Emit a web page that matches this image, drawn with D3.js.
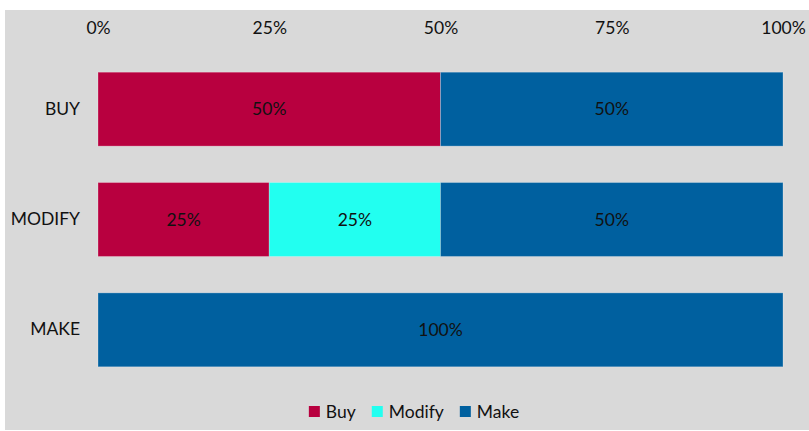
<!DOCTYPE html>
<html>
<head>
<meta charset="utf-8">
<script src="https://cdn.jsdelivr.net/npm/d3@7"></script>
<style>
    body { margin: 0; background: #ffffff; }
    text { font-family: Lato, "Open Sans", sans-serif; fill: #111111; }
</style>
</head>
<body>
<div class="chart"></div>
<script>
let categories = ["BUY", "MODIFY", "MAKE"];
let seriesNames = ["Buy", "Modify", "Make"];
let buyValues = [50, 25, 0];
let modifyValues = [0, 25, 0];
let makeValues = [50, 50, 100];
let tickValues = [0, 25, 50, 75, 100];
let colors = ["#b8003f", "#22fff0", "#00609f"];

const fontSize = "17.5px";

function buildRows() {
    let rows = categories.map((c, i) => ({
        category: c,
        Buy: buyValues[i],
        Modify: modifyValues[i],
        Make: makeValues[i]
    }));
    return rows;
}

function drawChart() {
    const width = 809;
    const height = 431;
    const svg = d3.select('.chart')
        .append('svg')
        .attr('width', width)
        .attr('height', height);

    // chart area background
    svg.append("rect")
        .attr("x", 5)
        .attr("y", 10)
        .attr("width", width - 5)
        .attr("height", 420)
        .attr("fill", "#d9d9d9");

    let rows = buildRows();
    let stacked = d3.stack().keys(seriesNames)(rows);

    const x = d3.scaleLinear().domain([0, 100]).range([98, 783]);
    const y = d3.scaleBand().domain(categories).range([54, 385]).paddingInner(0.33).paddingOuter(0.165);

    const color = d3.scaleOrdinal().domain(seriesNames).range(colors);

    // top axis
    const xAxis = d3.axisTop(x).tickValues(tickValues).tickFormat(d => d + "%").tickSize(0).tickPadding(0);
    const gx = svg.append("g")
        .attr("transform", "translate(0,34)")
        .call(xAxis);
    gx.select(".domain").remove();
    gx.selectAll("text").attr("font-size", fontSize).attr("font-family", "Lato, sans-serif").attr("fill", "#111");

    // left axis
    const yAxis = d3.axisLeft(y).tickSize(0).tickPadding(18);
    const gy = svg.append("g")
        .attr("transform", "translate(98,0)")
        .call(yAxis);
    gy.select(".domain").remove();
    gy.selectAll("text").attr("font-size", fontSize).attr("font-family", "Lato, sans-serif").attr("fill", "#111");

    let layers = svg.selectAll(".layer")
        .data(stacked)
        .enter()
        .append("g")
        .attr("class", "layer")
        .attr("fill", d => color(d.key));

    layers.selectAll("rect")
        .data(d => d.filter(s => s[1] - s[0] > 0))
        .enter()
        .append("rect")
        .attr("x", d => x(d[0]))
        .attr("y", d => y(d.data.category))
        .attr("width", d => x(d[1]) - x(d[0]))
        .attr("height", y.bandwidth())
        .attr("stroke", "rgba(255,255,255,0.25)")
        .attr("stroke-width", 1);

    layers.selectAll("text")
        .data(d => d.filter(s => s[1] - s[0] > 0))
        .enter()
        .append("text")
        .attr("text-anchor", "middle")
        .attr("x", d => (x(d[0]) + x(d[1])) / 2)
        .attr("y", d => y(d.data.category) + y.bandwidth() / 2)
        .attr("dy", "0.36em")
        .attr("font-size", fontSize)
        .text(d => (d[1] - d[0]) + "%");

    // legend
    const legend = svg.append("g");
    let lx = 0;
    seriesNames.forEach((name, i) => {
        let item = legend.append("g").attr("transform", "translate(" + lx + ",0)");
        item.append("rect")
            .attr("x", 0)
            .attr("y", -12)
            .attr("width", 11)
            .attr("height", 11)
            .attr("fill", colors[i]);
        let t = item.append("text")
            .attr("x", 17)
            .attr("y", 0)
            .attr("font-size", fontSize)
            .text(name);
        lx += 17 + t.node().getComputedTextLength() + 16;
    });
    let legendWidth = lx - 16;
    legend.attr("transform", "translate(" + (414 - legendWidth / 2) + ",418)");
}

drawChart();
</script>
</body>
</html>
